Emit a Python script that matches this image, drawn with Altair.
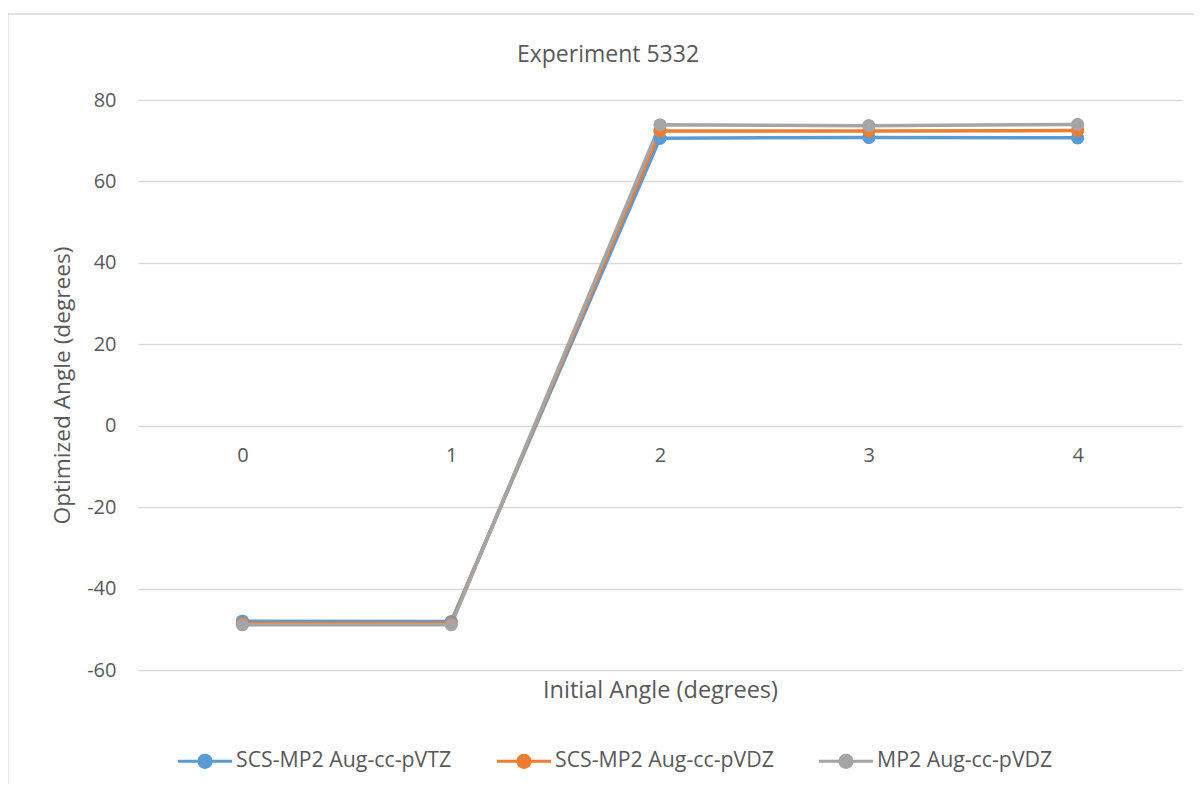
import altair as alt
import pandas as pd

initial_angles = [0, 1, 2, 3, 4]
series_names = ["SCS-MP2 Aug-cc-pVTZ", "SCS-MP2 Aug-cc-pVDZ", "MP2 Aug-cc-pVDZ"]
scs_mp2_vtz = [-48.0, -48.1, 70.6, 70.8, 70.7]
scs_mp2_vdz = [-48.5, -48.5, 72.4, 72.4, 72.5]
mp2_vdz = [-48.9, -48.9, 73.9, 73.7, 74.0]
colors = ["#5B9BD5", "#ED7D31", "#A5A5A5"]

rows = []
for name, vals in zip(series_names, [scs_mp2_vtz, scs_mp2_vdz, mp2_vdz]):
    for xa, ya in zip(initial_angles, vals):
        rows.append({"x": xa, "y": ya, "series": name, "order": series_names.index(name)})
df = pd.DataFrame(rows)

FONT = "Open Sans"
TXT = "#595959"
GRID = "#D9D9D9"

W, H = 1044, 570
PAD_L, PAD_T = 130, 92

legend_path = ("M-1,-0.056L1,-0.056L1,0.056L-1,0.056Z "
               "M-0.28,0A0.28,0.28,0,1,1,0.28,0A0.28,0.28,0,1,1,-0.28,0Z")

x_enc = alt.X(
    "x:O",
    scale=alt.Scale(type="point", padding=0.5),
    axis=alt.Axis(
        title="Initial Angle (degrees)",
        labelAngle=0, domain=False, ticks=False, grid=False,
        offset=-(H * 60 / 140), labelPadding=20, titlePadding=213,
        labelFont=FONT, labelFontSize=20, labelColor=TXT,
        titleFont=FONT, titleFontSize=23.5, titleColor=TXT, titleFontWeight="normal",
    ),
)
y_enc = alt.Y(
    "y:Q",
    scale=alt.Scale(domain=[-60, 80], nice=False, zero=False),
    axis=alt.Axis(
        title="Optimized Angle (degrees)",
        values=[-60, -40, -20, 0, 20, 40, 60, 80],
        labelExpr="'' + datum.value",
        domain=False, ticks=False, grid=True, gridColor=GRID, gridWidth=1.3,
        labelPadding=22, titlePadding=12,
        labelFont=FONT, labelFontSize=20, labelColor=TXT,
        titleFont=FONT, titleFontSize=22.7, titleColor=TXT, titleFontWeight="normal",
    ),
)
color_enc = alt.Color(
    "series:N",
    scale=alt.Scale(domain=series_names, range=colors),
    legend=alt.Legend(
        title=None, orient="none", direction="horizontal",
        legendX=40, legendY=634,
        symbolType=legend_path, symbolSize=2916, symbolStrokeWidth=0,
        labelFont=FONT, labelFontSize=21.3, labelColor=TXT, labelLimit=0,
        labelOffset=4, columnPadding=45,
    ),
)

base = alt.Chart(df)

points_under = base.mark_point(filled=True, size=165, opacity=1).encode(
    x=x_enc, y=y_enc, color=color_enc, order="order:Q"
)
lines = base.mark_line(strokeWidth=3.5).encode(
    x=x_enc, y=y_enc, color=color_enc, detail="series:N", order="x:O"
)
points_over = base.mark_point(filled=True, size=165, opacity=1).encode(
    x=x_enc, y=y_enc, color=color_enc, order="order:Q"
)

frame = alt.Chart(alt.Data(values=[{}])).mark_rect(
    fill=None, stroke=GRID, strokeWidth=1.3
).encode(
    x=alt.value(-PAD_L), x2=alt.value(1200), y=alt.value(-86), y2=alt.value(800)
)

chart = alt.layer(frame, points_under, lines, points_over).properties(
    width=W, height=H,
    padding={"left": PAD_L, "top": PAD_T, "right": 12, "bottom": 114},
    autosize=alt.AutoSizeParams(type="none"),
    title=alt.TitleParams(
        "Experiment 5332", font=FONT, fontSize=23, color=TXT, fontWeight="normal",
        anchor="middle", frame="group", dx=-52, offset=-54,
    ),
).configure_view(stroke=None)

chart.save("out.html", embed_options={"renderer": "svg", "actions": False})
